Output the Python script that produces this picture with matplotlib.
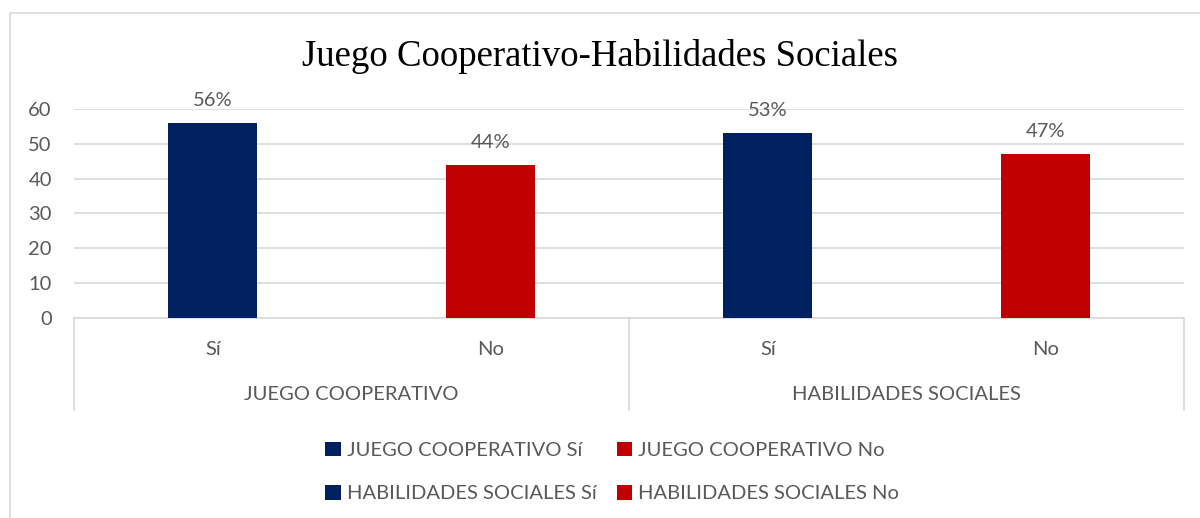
import matplotlib.pyplot as plt
from matplotlib.patches import Rectangle

# Datos
grupos = ['JUEGO COOPERATIVO', 'HABILIDADES SOCIALES']
categorias = ['Sí', 'No', 'Sí', 'No']
valores = [56, 44, 53, 47]
etiquetas = ['56%', '44%', '53%', '47%']
series = ['JUEGO COOPERATIVO Sí', 'JUEGO COOPERATIVO No',
          'HABILIDADES SOCIALES Sí', 'HABILIDADES SOCIALES No']
colores = ['#002060', '#C00000', '#002060', '#C00000']

gris = '#595959'
linea = '#D9D9D9'
fs = 14.5

plt.rcParams['font.family'] = ['Lato', 'DejaVu Sans']

fig = plt.figure(figsize=(12, 5.18), dpi=100)
ax = fig.add_axes([74/1200, 200/518, 1110/1200, 209/518])

# marco del gráfico
fig.patches.append(Rectangle((10/1200, -0.1), 1.2, 1 - 13/518 + 0.1, transform=fig.transFigure,
                             fill=False, edgecolor=linea, linewidth=1.2))

barras = []
for i, v in enumerate(valores):
    b = ax.bar(i, v, width=0.32, color=colores[i], label=series[i], zorder=3)
    barras.append(b)
    ax.annotate(etiquetas[i], (i, v), xytext=(0, 10), textcoords='offset points',
                ha='center', va='bottom', fontsize=fs, color=gris)

ax.set_xlim(-0.5, len(valores) - 0.5)
ax.set_ylim(0, 60)
ax.set_yticks(range(0, 61, 10))
ax.tick_params(axis='y', length=0, pad=16, labelsize=fs, labelcolor=gris)
ax.set_xticks([])
ax.grid(axis='y', color=linea, linewidth=1.2, zorder=0)
for s in ['top', 'right', 'left']:
    ax.spines[s].set_visible(False)
ax.spines['bottom'].set_color(linea)
ax.spines['bottom'].set_linewidth(1.2)

# etiquetas de categorías y grupos
for i, c in enumerate(categorias):
    ax.text(i, -0.153, c, transform=ax.get_xaxis_transform(), ha='center', va='center',
            fontsize=fs, color=gris)
for j, g in enumerate(grupos):
    ax.text(2 * j + 0.5, -0.368, g, transform=ax.get_xaxis_transform(), ha='center',
            va='center', fontsize=fs, color=gris)
for x in [-0.5, 1.5, 3.5]:
    ax.plot([x, x], [0, -0.44], transform=ax.get_xaxis_transform(), color=linea,
            linewidth=1.2, clip_on=False)

fig.suptitle('Juego Cooperativo-Habilidades Sociales', y=1 - 57/518, va='center',
             fontsize=26.5, family='Liberation Serif')

orden = [0, 2, 1, 3]
fig.legend([barras[k] for k in orden], [series[k] for k in orden], ncol=2,
           loc='center', bbox_to_anchor=(612/1200, 1 - 472/518), frameon=False,
           fontsize=fs, labelcolor=gris, handlelength=0.75, handleheight=0.75,
           handletextpad=0.3, columnspacing=1.0, labelspacing=1.3)

fig.savefig('out.png')
